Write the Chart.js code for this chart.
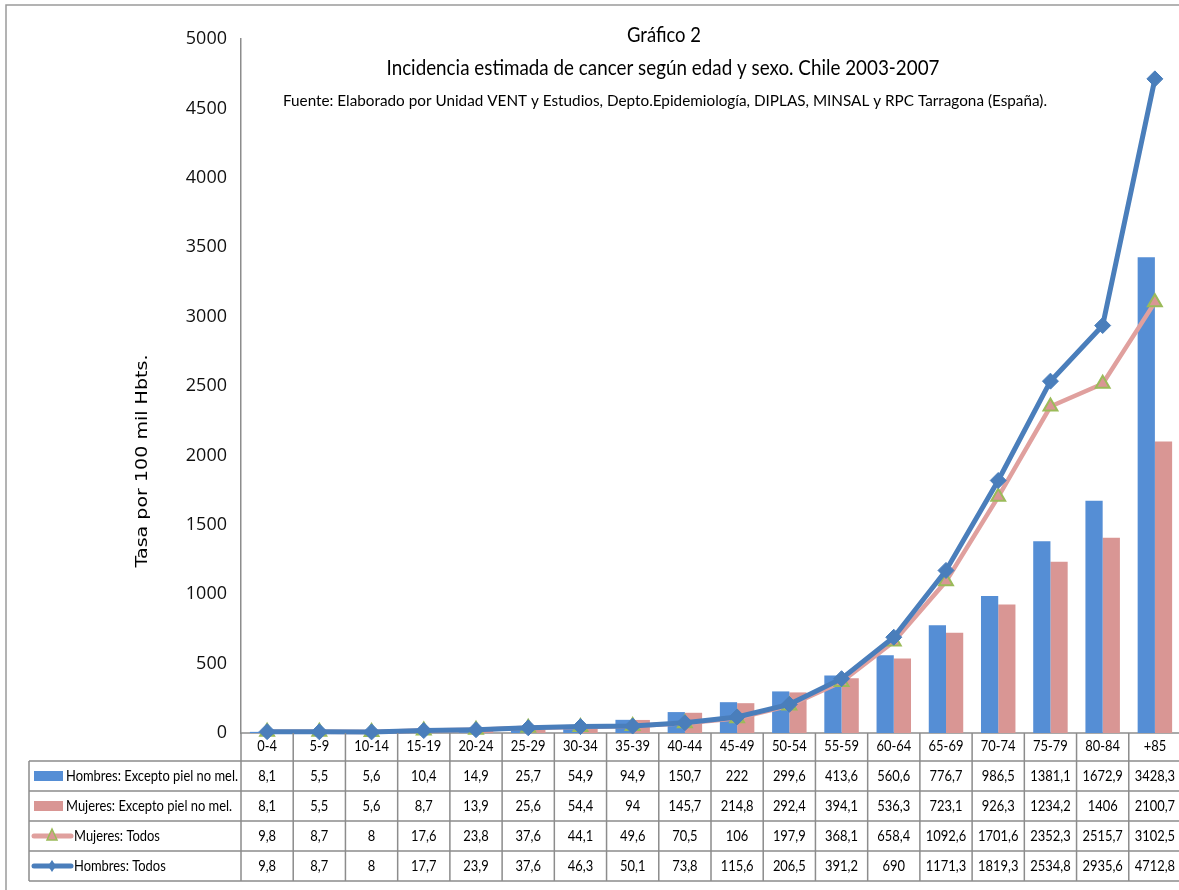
<!DOCTYPE html>
<html>
<head>
<meta charset="utf-8">
<script src="https://cdn.jsdelivr.net/npm/chart.js@4.4.1/dist/chart.umd.min.js"></script>
<style>
  html, body { margin: 0; padding: 0; background: #fff; overflow: hidden; }
  #wrap { width: 1179px; height: 890px; overflow: hidden; }
  canvas { display: block; }
</style>
</head>
<body>
<div id="wrap"><canvas id="chart" width="1191" height="890" style="width:1191px;height:890px"></canvas></div>
<script>
// Categories & series
const ageGroups = ['0-4','5-9','10-14','15-19','20-24','25-29','30-34','35-39','40-44','45-49','50-54','55-59','60-64','65-69','70-74','75-79','80-84','+85'];
const hombresExcepto = [8.1,5.5,5.6,10.4,14.9,25.7,54.9,94.9,150.7,222,299.6,413.6,560.6,776.7,986.5,1381.1,1672.9,3428.3];
const mujeresExcepto = [8.1,5.5,5.6,8.7,13.9,25.6,54.4,94,145.7,214.8,292.4,394.1,536.3,723.1,926.3,1234.2,1406,2100.7];
const mujeresTodos = [9.8,8.7,8,17.6,23.8,37.6,44.1,49.6,70.5,106,197.9,368.1,658.4,1092.6,1701.6,2352.3,2515.7,3102.5];
const hombresTodos = [9.8,8.7,8,17.7,23.9,37.6,46.3,50.1,73.8,115.6,206.5,391.2,690,1171.3,1819.3,2534.8,2935.6,4712.8];
const yTicks = [0,500,1000,1500,2000,2500,3000,3500,4000,4500,5000];

const titleLines = ['Gráfico 2', 'Incidencia estimada de cancer según edad y sexo. Chile 2003-2007',
  'Fuente: Elaborado por Unidad VENT y Estudios, Depto.Epidemiología, DIPLAS, MINSAL y RPC Tarragona (España).'];
const yTitle = 'Tasa por 100 mil Hbts.';

const BLUE_BAR = '#558ed5', PINK_BAR = '#d99694';
const BLUE_LINE = '#4a7ebb', PINK_LINE = '#e0a09e', GREEN = '#9bbb59';
const GRID = '#8c8c8c';
const NARROW = "Lato, 'Open Sans', sans-serif";

const fmt = v => String(v).replace('.', ',');

function drawScaled(ctx, text, x, y, sx, align) {
  ctx.save();
  ctx.translate(x, y);
  ctx.scale(sx, 1);
  ctx.textAlign = align;
  ctx.fillText(text, 0, 0);
  ctx.restore();
}
function fitScale(ctx, text, width) {
  return width / ctx.measureText(text).width;
}

// frame, axis line, titles, table
const decorPlugin = {
  id: 'decor',
  beforeDatasetsDraw(chart) {
    const { ctx, chartArea } = chart;
    ctx.save();
    ctx.strokeStyle = GRID;
    ctx.lineWidth = 1.5;
    ctx.beginPath();
    ctx.moveTo(chartArea.left, chartArea.bottom);
    ctx.lineTo(chart.width, chartArea.bottom);
    ctx.stroke();
    ctx.restore();
  },
  afterDraw(chart) {
    const { ctx, chartArea, scales } = chart;
    const x = scales.x;
    const colW = (chartArea.right - chartArea.left) / ageGroups.length;
    ctx.save();

    // outer frame
    ctx.strokeStyle = '#9a9a9a';
    ctx.lineWidth = 1.5;
    ctx.beginPath();
    ctx.moveTo(6, chart.height);
    ctx.lineTo(6, 5);
    ctx.lineTo(chart.width, 5);
    ctx.stroke();

    // titles
    ctx.fillStyle = '#000';
    ctx.textBaseline = 'middle';
    ctx.font = '22px ' + NARROW;
    drawScaled(ctx, titleLines[0], 664, 35, fitScale(ctx, titleLines[0], 74), 'center');
    drawScaled(ctx, titleLines[1], 663, 68, fitScale(ctx, titleLines[1], 553), 'center');
    ctx.font = '16px ' + NARROW;
    drawScaled(ctx, titleLines[2], 665, 101, fitScale(ctx, titleLines[2], 764), 'center');

    // y title
    ctx.save();
    ctx.translate(143, 461);
    ctx.rotate(-Math.PI / 2);
    ctx.font = '15px "DejaVu Sans", Verdana, sans-serif';
    drawScaled(ctx, yTitle, 0, 0, fitScale(ctx, yTitle, 213), 'center');
    ctx.restore();

    // data table
    const top = chartArea.bottom;
    const rowTop = [761, 791, 821, 851];
    const rowH = 30;
    const tableBottom = 881;
    const tableLeft = 29;
    ctx.strokeStyle = GRID;
    ctx.lineWidth = 1.5;
    ctx.beginPath();
    rowTop.concat([tableBottom]).forEach(y => { ctx.moveTo(tableLeft, y); ctx.lineTo(chart.width, y); });
    ctx.moveTo(tableLeft, rowTop[0]); ctx.lineTo(tableLeft, tableBottom);
    for (let i = 0; i <= ageGroups.length; i++) {
      const xx = chartArea.left + i * colW;
      ctx.moveTo(xx, top); ctx.lineTo(xx, tableBottom);
    }
    ctx.stroke();

    ctx.font = '16px ' + NARROW;
    const sx = fitScale(ctx, 'Hombres: Excepto piel no mel.', 172);
    ctx.fillStyle = '#000';
    ageGroups.forEach((g, i) => drawScaled(ctx, g, x.getPixelForValue(i), top + 13, sx, 'center'));

    const rows = [
      { label: 'Hombres: Excepto piel no mel.', data: hombresExcepto, kind: 'bar', color: BLUE_BAR },
      { label: 'Mujeres: Excepto piel no mel.', data: mujeresExcepto, kind: 'bar', color: PINK_BAR },
      { label: 'Mujeres: Todos', data: mujeresTodos, kind: 'tri', color: PINK_LINE },
      { label: 'Hombres: Todos', data: hombresTodos, kind: 'dia', color: BLUE_LINE }
    ];
    rows.forEach((r, k) => {
      const cy = rowTop[k] + rowH / 2;
      let tx;
      if (r.kind === 'bar') {
        ctx.fillStyle = r.color;
        ctx.fillRect(34, cy - 5, 29, 10);
        tx = 66;
      } else {
        ctx.strokeStyle = r.color;
        ctx.lineWidth = 5;
        ctx.lineCap = 'round';
        ctx.beginPath(); ctx.moveTo(34, cy); ctx.lineTo(71, cy); ctx.stroke();
        ctx.lineCap = 'butt';
        if (r.kind === 'tri') {
          ctx.fillStyle = PINK_BAR; ctx.strokeStyle = GREEN; ctx.lineWidth = 1.5;
          ctx.beginPath(); ctx.moveTo(52, cy - 7); ctx.lineTo(57, cy + 4); ctx.lineTo(47, cy + 4); ctx.closePath();
          ctx.fill(); ctx.stroke();
        } else {
          ctx.fillStyle = BLUE_LINE;
          ctx.beginPath(); ctx.moveTo(52, cy - 6); ctx.lineTo(56, cy); ctx.lineTo(52, cy + 6); ctx.lineTo(48, cy); ctx.closePath();
          ctx.fill();
        }
        tx = 74;
      }
      ctx.fillStyle = '#000';
      drawScaled(ctx, r.label, tx, cy, sx, 'left');
      r.data.forEach((v, i) => drawScaled(ctx, fmt(v), x.getPixelForValue(i), cy, sx, 'center'));
    });
    ctx.restore();
  }
};

const ctx = document.getElementById('chart').getContext('2d');
new Chart(ctx, {
  data: {
    labels: ageGroups,
    datasets: [
      { type: 'line', label: 'Hombres: Todos', data: hombresTodos, order: 1, clip: false,
        borderColor: BLUE_LINE, borderWidth: 5, pointStyle: 'rectRot', pointRadius: 8,
        pointBackgroundColor: BLUE_LINE, pointBorderColor: BLUE_LINE, pointBorderWidth: 1, tension: 0 },
      { type: 'line', label: 'Mujeres: Todos', data: mujeresTodos, order: 2, clip: false,
        borderColor: PINK_LINE, borderWidth: 4.5, pointStyle: 'triangle', pointRadius: 8,
        pointBackgroundColor: PINK_BAR, pointBorderColor: GREEN, pointBorderWidth: 2, tension: 0 },
      { type: 'bar', label: 'Hombres: Excepto piel no mel.', data: hombresExcepto, order: 3,
        backgroundColor: BLUE_BAR, categoryPercentage: 0.66, barPercentage: 1.0 },
      { type: 'bar', label: 'Mujeres: Excepto piel no mel.', data: mujeresExcepto, order: 4,
        backgroundColor: PINK_BAR, categoryPercentage: 0.66, barPercentage: 1.0 }
    ]
  },
  options: {
    responsive: false,
    animation: false,
    layout: { padding: { left: 0, right: 0, top: 39, bottom: 157 } },
    plugins: { legend: { display: false }, tooltip: { enabled: false }, title: { display: false } },
    scales: {
      x: { display: false, offset: true },
      y: {
        min: 0, max: 5000,
        afterBuildTicks: s => { s.ticks = yTicks.map(v => ({ value: v })); },
        afterFit: s => { s.width = 241; },
        grid: { display: false, drawTicks: false },
        border: { display: true, color: GRID, width: 1.5 },
        ticks: { padding: 14, color: '#111', font: { family: "'Open Sans', sans-serif", size: 18 },
          callback: v => String(v) }
      }
    }
  },
  plugins: [decorPlugin]
});
</script>
</body>
</html>
